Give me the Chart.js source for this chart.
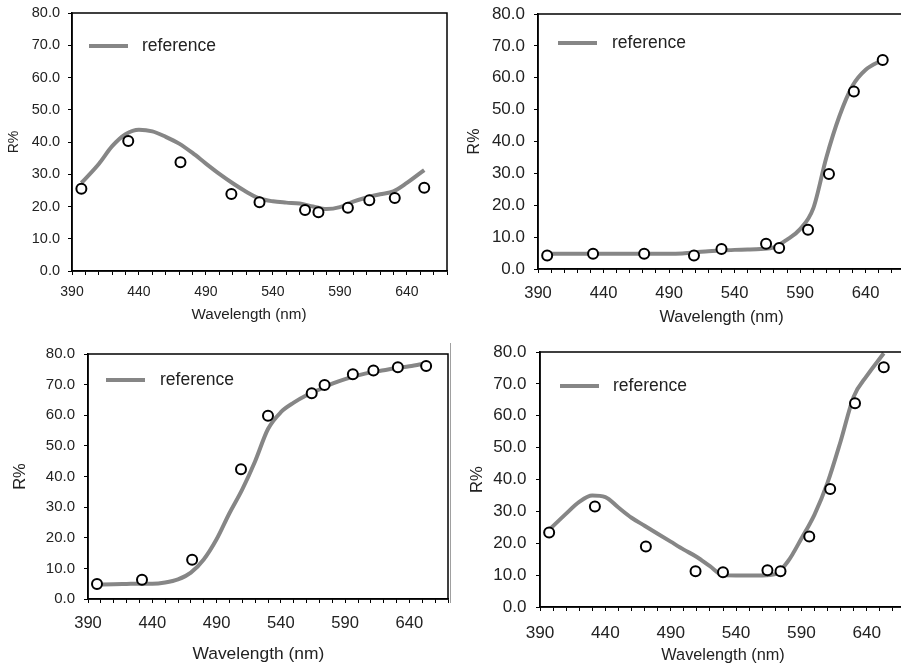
<!DOCTYPE html>
<html>
<head>
<meta charset="utf-8">
<title>Reflectance spectra</title>
<script src="https://cdn.jsdelivr.net/npm/chart.js@4.4.1/dist/chart.umd.min.js"></script>
<style>
  html, body { margin: 0; padding: 0; background: #fff; }
  body { width: 901px; height: 667px; overflow: hidden; position: relative; }
  canvas { position: absolute; }
  .edge { position: absolute; left: 450px; top: 343px; width: 1px; height: 260px; background: #a0a0a0; }
</style>
</head>
<body>
<canvas id="chartA" width="450" height="330" style="left:0;top:0"></canvas>
<canvas id="chartB" width="460" height="330" style="left:450px;top:0"></canvas>
<canvas id="chartC" width="450" height="337" style="left:0;top:330px"></canvas>
<canvas id="chartD" width="460" height="337" style="left:450px;top:330px"></canvas>
<div class="edge"></div>
<script>
var FONT = "'Liberation Sans', Arial, sans-serif";

// measured samples, same wavelengths in every panel
var wavelengths = [397, 432, 471, 509, 530, 564, 574, 596, 612, 631, 653];
// wavelengths where the reference curves are sampled
var curveWavelengths = [397, 410, 420, 430, 440, 450, 460, 470, 480, 490, 500, 510, 520,
  530, 540, 550, 560, 570, 580, 590, 600, 610, 620, 630, 640, 653];

var samplesA = [25.5, 40.3, 33.7, 23.9, 21.3, 18.9, 18.2, 19.6, 21.9, 22.6, 25.8];
var referenceA = [27.3, 33.2, 38.7, 42.4, 43.8, 43.3, 41.6, 39.5, 36.6, 33.3, 30.1, 27.2, 24.6,
  22.5, 21.6, 21.2, 20.9, 20.0, 19.2, 19.8, 21.5, 22.8, 23.8, 24.7, 27.3, 31.3];

var samplesB = [4.2, 4.8, 4.8, 4.2, 6.3, 7.9, 6.6, 12.3, 29.8, 55.7, 65.6];
var referenceB = [4.8, 4.8, 4.8, 4.8, 4.8, 4.8, 4.8, 4.8, 4.8, 4.8, 4.9, 5.2, 5.6,
  5.8, 6.0, 6.1, 6.3, 6.8, 9.2, 12.5, 19.0, 35.0, 48.0, 57.5, 62.5, 65.6];

var samplesC = [4.9, 6.3, 12.8, 42.4, 59.8, 67.2, 69.9, 73.4, 74.6, 75.7, 76.1];
var referenceC = [4.7, 4.8, 4.9, 5.0, 5.0, 5.4, 6.4, 8.6, 12.9, 19.5, 28.0, 35.8, 45.0,
  55.5, 61.0, 64.1, 66.5, 68.4, 70.3, 71.8, 73.0, 74.0, 74.7, 75.4, 76.0, 77.0];

var samplesD = [23.4, 31.5, 19.0, 11.2, 10.9, 11.5, 11.2, 22.1, 37.0, 63.9, 75.2];
var referenceD = [24.2, 29.3, 33.0, 35.0, 34.5, 31.2, 28.0, 25.5, 23.0, 20.5, 18.0, 15.7, 12.8,
  10.0, 9.9, 9.9, 9.9, 10.3, 14.5, 21.5, 29.0, 39.0, 52.0, 66.0, 72.5, 79.6];

function toPoints(xs, ys) {
  return xs.map(function (x, i) { return { x: x, y: ys[i] }; });
}

// closed black box round the plot area
var frame = {
  id: 'frame',
  afterDraw: function (chart) {
    var a = chart.chartArea, ctx = chart.ctx;
    ctx.save();
    ctx.strokeStyle = '#000';
    ctx.lineWidth = 1.5;
    ctx.strokeRect(a.left, a.top, a.right - a.left, a.bottom - a.top);
    ctx.restore();
  }
};

// legend drawn inside the plot: a line sample and the curve's label
var inlineLegend = {
  id: 'inlineLegend',
  afterDraw: function (chart, args, opts) {
    var a = chart.chartArea, ctx = chart.ctx;
    var ds = chart.data.datasets[1];
    var y = a.top + opts.y;
    ctx.save();
    ctx.strokeStyle = ds.borderColor;
    ctx.lineWidth = ds.borderWidth;
    ctx.beginPath();
    ctx.moveTo(a.left + opts.x, y);
    ctx.lineTo(a.left + opts.x + 39, y);
    ctx.stroke();
    ctx.fillStyle = '#222';
    ctx.font = opts.size + 'px ' + FONT;
    ctx.textBaseline = 'middle';
    ctx.fillText(ds.label, a.left + opts.textX, y);
    ctx.restore();
  }
};

function makeChart(id, samples, reference, p) {
  new Chart(document.getElementById(id), {
    type: 'scatter',
    data: {
      datasets: [
        {
          label: 'samples',
          data: toPoints(wavelengths, samples),
          pointRadius: 5,
          pointBorderWidth: 2,
          pointBorderColor: '#000',
          pointBackgroundColor: '#fff'
        },
        {
          label: 'reference',
          data: toPoints(curveWavelengths, reference),
          showLine: true,
          borderColor: '#868686',
          borderWidth: 4,
          pointRadius: 0,
          cubicInterpolationMode: 'monotone'
        }
      ]
    },
    options: {
      responsive: false,
      animation: false,
      events: [],
      layout: {
        autoPadding: false,
        padding: { left: 0, top: p.top, right: p.right, bottom: 0 }
      },
      plugins: {
        legend: { display: false },
        tooltip: { enabled: false },
        inlineLegend: p.legend
      },
      scales: {
        x: {
          type: 'linear',
          min: 390,
          max: 670,
          // fixed axis height, and no extra room at the ends for the labels
          afterFit: function (s) {
            s.height = p.xHeight;
            s.paddingLeft = 0;
            s.paddingRight = 0;
          },
          grid: { drawOnChartArea: false, tickLength: 4, color: '#000', lineWidth: 1 },
          border: { color: '#000', width: 1.5 },
          ticks: {
            stepSize: 10,
            autoSkip: false,
            maxRotation: 0,
            padding: p.xPad,
            color: '#222',
            font: { family: FONT, size: p.xTick, lineHeight: 1 },
            callback: function (v) { return (v - 390) % 50 === 0 ? String(v) : ''; }
          },
          title: {
            display: true,
            text: p.xTitle,
            color: '#222',
            font: { family: FONT, size: p.xTitleSize, lineHeight: 1 },
            padding: { top: 0, bottom: p.xTitlePad }
          }
        },
        y: {
          min: 0,
          max: 80,
          afterFit: function (s) {
            s.width = p.yWidth;
            s.paddingTop = 0;
            s.paddingBottom = 0;
          },
          grid: { drawOnChartArea: false, tickLength: 4, color: '#000', lineWidth: 1 },
          border: { color: '#000', width: 1.5 },
          ticks: {
            stepSize: 10,
            padding: p.yPad,
            color: '#222',
            font: { family: FONT, size: p.yTick, lineHeight: 1 },
            callback: function (v) { return v.toFixed(1); }
          },
          title: {
            display: true,
            text: 'R%',
            color: '#222',
            font: { family: FONT, size: p.yTitleSize, lineHeight: 1 },
            padding: { top: p.yTitlePad, bottom: 0 }
          }
        }
      }
    },
    plugins: [frame, inlineLegend]
  });
}

makeChart('chartA', samplesA, referenceA, {
  top: 13, right: 3, yWidth: 72, xHeight: 59,
  yTick: 14.5, yPad: 8, xTick: 14, xPad: 10.5,
  xTitle: 'Wavelength (nm)     ', xTitleSize: 15.2, xTitlePad: 7.8,
  yTitleSize: 14, yTitlePad: 7,
  legend: { x: 17, y: 33, textX: 70, size: 17.5 }
});

makeChart('chartB', samplesB, referenceB, {
  top: 14, right: 5, yWidth: 88, xHeight: 61,
  yTick: 17, yPad: 9, xTick: 16.6, xPad: 12,
  xTitle: 'Wavelength (nm)', xTitleSize: 16.4, xTitlePad: 4,
  yTitleSize: 16, yTitlePad: 17,
  legend: { x: 20, y: 29, textX: 74, size: 17.5 }
});

makeChart('chartC', samplesC, referenceC, {
  top: 24, right: 2, yWidth: 88, xHeight: 68,
  yTick: 15, yPad: 9, xTick: 16.6, xPad: 12,
  xTitle: 'Wavelength (nm)    ', xTitleSize: 17.4, xTitlePad: 3.8,
  yTitleSize: 16.5, yTitlePad: 12,
  legend: { x: 18, y: 26, textX: 72, size: 17.5 }
});

makeChart('chartD', samplesD, referenceD, {
  top: 22, right: 4, yWidth: 90, xHeight: 60,
  yTick: 17, yPad: 9.6, xTick: 17.2, xPad: 13.4,
  xTitle: 'Wavelength (nm)', xTitleSize: 16.3, xTitlePad: 2.9,
  yTitleSize: 16.7, yTitlePad: 19,
  legend: { x: 20, y: 34, textX: 73, size: 17.5 }
});
</script>
</body>
</html>
